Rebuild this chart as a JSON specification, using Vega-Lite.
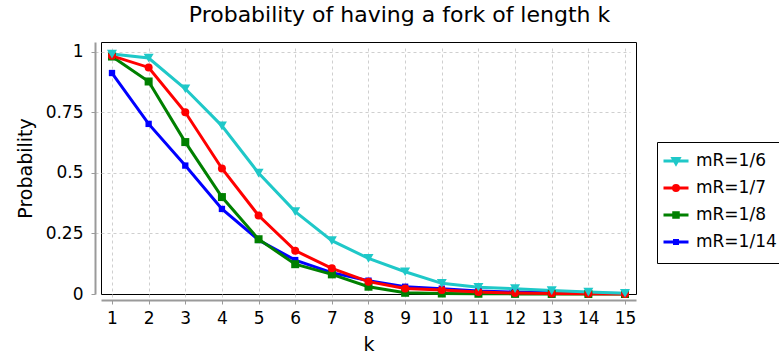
{
  "$schema": "https://vega.github.io/schema/vega-lite/v6.json",
  "width": 535,
  "height": 252,
  "autosize": "none",
  "padding": {"left": 101, "top": 42, "right": 143, "bottom": 65},
  "background": "white",
  "title": {
    "text": "Probability of having a fork of length k",
    "fontSize": 22,
    "fontWeight": "normal",
    "font": "DejaVu Sans",
    "color": "black",
    "anchor": "middle",
    "dx": 31,
    "offset": 15
  },
  "config": {
    "font": "DejaVu Sans",
    "view": {"stroke": "black", "strokeWidth": 1},
    "axis": {
      "domainColor": "#9a9a9a",
      "domainWidth": 2,
      "tickColor": "#9a9a9a",
      "tickWidth": 1,
      "tickSize": 4,
      "labelColor": "black",
      "labelFontSize": 17,
      "titleColor": "black",
      "titleFontSize": 19,
      "titleFontWeight": "normal",
      "grid": true,
      "gridColor": "#cfcfcf",
      "gridDash": [3, 3],
      "gridWidth": 1,
      "offset": 6
    }
  },
  "data": {
    "values": [
      {"series": "mR=1/14", "k": 1, "p": 0.912},
      {"series": "mR=1/14", "k": 2, "p": 0.702},
      {"series": "mR=1/14", "k": 3, "p": 0.53},
      {"series": "mR=1/14", "k": 4, "p": 0.351},
      {"series": "mR=1/14", "k": 5, "p": 0.223},
      {"series": "mR=1/14", "k": 6, "p": 0.14},
      {"series": "mR=1/14", "k": 7, "p": 0.088},
      {"series": "mR=1/14", "k": 8, "p": 0.055},
      {"series": "mR=1/14", "k": 9, "p": 0.03},
      {"series": "mR=1/14", "k": 10, "p": 0.022},
      {"series": "mR=1/14", "k": 11, "p": 0.012},
      {"series": "mR=1/14", "k": 12, "p": 0.008},
      {"series": "mR=1/14", "k": 13, "p": 0.005},
      {"series": "mR=1/14", "k": 14, "p": 0.003},
      {"series": "mR=1/14", "k": 15, "p": 0.002},
      {"series": "mR=1/8", "k": 1, "p": 0.98},
      {"series": "mR=1/8", "k": 2, "p": 0.877},
      {"series": "mR=1/8", "k": 3, "p": 0.627},
      {"series": "mR=1/8", "k": 4, "p": 0.4},
      {"series": "mR=1/8", "k": 5, "p": 0.226},
      {"series": "mR=1/8", "k": 6, "p": 0.123},
      {"series": "mR=1/8", "k": 7, "p": 0.081},
      {"series": "mR=1/8", "k": 8, "p": 0.03},
      {"series": "mR=1/8", "k": 9, "p": 0.005},
      {"series": "mR=1/8", "k": 10, "p": 0.002},
      {"series": "mR=1/8", "k": 11, "p": 0.001},
      {"series": "mR=1/8", "k": 12, "p": 0.0005},
      {"series": "mR=1/8", "k": 13, "p": 0.0002},
      {"series": "mR=1/8", "k": 14, "p": 0.0001},
      {"series": "mR=1/8", "k": 15, "p": 0},
      {"series": "mR=1/7", "k": 1, "p": 0.983},
      {"series": "mR=1/7", "k": 2, "p": 0.935},
      {"series": "mR=1/7", "k": 3, "p": 0.75},
      {"series": "mR=1/7", "k": 4, "p": 0.518},
      {"series": "mR=1/7", "k": 5, "p": 0.324},
      {"series": "mR=1/7", "k": 6, "p": 0.179},
      {"series": "mR=1/7", "k": 7, "p": 0.106},
      {"series": "mR=1/7", "k": 8, "p": 0.051},
      {"series": "mR=1/7", "k": 9, "p": 0.023},
      {"series": "mR=1/7", "k": 10, "p": 0.016},
      {"series": "mR=1/7", "k": 11, "p": 0.008},
      {"series": "mR=1/7", "k": 12, "p": 0.004},
      {"series": "mR=1/7", "k": 13, "p": 0.002},
      {"series": "mR=1/7", "k": 14, "p": 0.001},
      {"series": "mR=1/7", "k": 15, "p": 0.0005},
      {"series": "mR=1/6", "k": 1, "p": 0.99},
      {"series": "mR=1/6", "k": 2, "p": 0.974},
      {"series": "mR=1/6", "k": 3, "p": 0.847},
      {"series": "mR=1/6", "k": 4, "p": 0.694},
      {"series": "mR=1/6", "k": 5, "p": 0.499},
      {"series": "mR=1/6", "k": 6, "p": 0.34},
      {"series": "mR=1/6", "k": 7, "p": 0.22},
      {"series": "mR=1/6", "k": 8, "p": 0.147},
      {"series": "mR=1/6", "k": 9, "p": 0.092},
      {"series": "mR=1/6", "k": 10, "p": 0.044},
      {"series": "mR=1/6", "k": 11, "p": 0.028},
      {"series": "mR=1/6", "k": 12, "p": 0.022},
      {"series": "mR=1/6", "k": 13, "p": 0.014},
      {"series": "mR=1/6", "k": 14, "p": 0.008},
      {"series": "mR=1/6", "k": 15, "p": 0.003}
    ]
  },
  "encoding": {
    "x": {
      "field": "k",
      "type": "quantitative",
      "scale": {"domain": [0.7, 15.3], "nice": false, "zero": false},
      "axis": {
        "title": "k",
        "values": [1, 2, 3, 4, 5, 6, 7, 8, 9, 10, 11, 12, 13, 14, 15],
        "format": "d",
        "labelPadding": 6,
        "titlePadding": 9
      }
    },
    "y": {
      "field": "p",
      "type": "quantitative",
      "scale": {"domain": [0, 1.04], "nice": false},
      "axis": {
        "title": "Probability",
        "values": [0, 0.25, 0.5, 0.75, 1],
        "format": ".2~f",
        "labelPadding": 8,
        "titlePadding": 10,
        "gridOpacity": {"condition": {"test": "datum.value === 0", "value": 0}, "value": 1}
      }
    },
    "color": {
      "field": "series",
      "type": "nominal",
      "scale": {
        "domain": ["mR=1/6", "mR=1/7", "mR=1/8", "mR=1/14"],
        "range": ["#1fc8c8", "#ff0000", "#008000", "#0000ff"]
      },
      "legend": {
        "orient": "none",
        "legendX": 556,
        "legendY": 100,
        "title": " ",
        "titleOrient": "bottom",
        "titleFontSize": 6,
        "titlePadding": 2,
        "padding": 5,
        "strokeColor": "black",
        "fillColor": "white",
        "symbolSize": 625,
        "rowPadding": 4,
        "labelOffset": 6,
        "labelFontSize": 17,
        "labelColor": "black",
        "labelFont": "DejaVu Sans",
        "encode": {
          "symbols": {
            "update": {
              "shape": {
                "signal": "datum.value === 'mR=1/6' ? 'M-1,0L1,0M-0.24,-0.2L0.24,-0.2L0,0.22Z' : datum.value === 'mR=1/7' ? 'M-1,0L1,0M-0.2,0A0.2,0.2,0,1,0,0.2,0A0.2,0.2,0,1,0,-0.2,0Z' : datum.value === 'mR=1/8' ? 'M-1,0L1,0M-0.18,-0.18L0.18,-0.18L0.18,0.18L-0.18,0.18Z' : 'M-1,0L1,0M-0.12,-0.12L0.12,-0.12L0.12,0.12L-0.12,0.12Z'"
              },
              "fill": {"scale": "color", "field": "value"},
              "stroke": {"scale": "color", "field": "value"},
              "strokeWidth": {"value": 3},
              "opacity": {"value": 1}
            }
          }
        }
      }
    }
  },
  "layer": [
    {"mark": {"type": "line", "strokeWidth": 3}},
    {
      "transform": [{"filter": "datum.series === 'mR=1/14'"}],
      "mark": {"type": "point", "filled": true, "opacity": 1, "shape": "square", "size": 40}
    },
    {
      "transform": [{"filter": "datum.series === 'mR=1/8'"}],
      "mark": {"type": "point", "filled": true, "opacity": 1, "shape": "square", "size": 64}
    },
    {
      "transform": [{"filter": "datum.series === 'mR=1/7'"}],
      "mark": {"type": "point", "filled": true, "opacity": 1, "shape": "circle", "size": 64}
    },
    {
      "transform": [{"filter": "datum.series === 'mR=1/6'"}],
      "mark": {"type": "point", "filled": true, "opacity": 1, "shape": "triangle-down", "size": 100}
    }
  ]
}
